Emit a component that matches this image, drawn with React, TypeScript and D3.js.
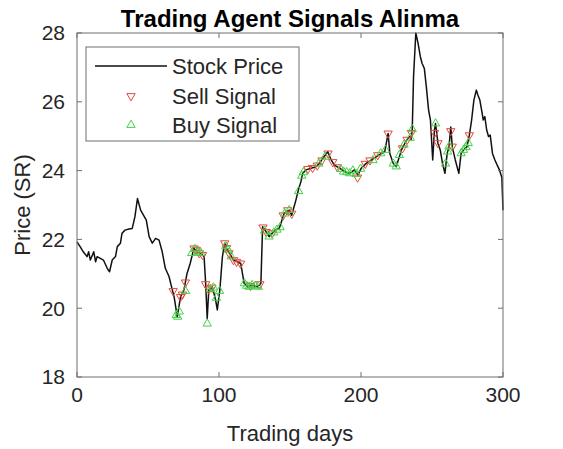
import React from 'react';
import * as d3 from 'd3';

// price line as [day, price]
const priceDays = [
  0, 2.2, 4.4, 7.1, 8.2, 9.4, 11.8, 13.1, 14.2, 16.4, 18.6, 21.3, 22.9, 24.8, 27.1, 28.4, 30.6, 31.7, 33.8, 36.6,
  38.9, 40.8, 42.6, 44.8, 46.9, 48.8, 50.8, 53.0, 55.4, 57.8, 60.0, 62.2, 64.8, 66.6, 68.4, 70.6, 72.9, 75.3, 77.5, 79.7,
  82.3, 84.7, 87.0, 89.5, 90.6, 91.7, 92.8, 95.3, 97.6, 98.8, 100.6, 102.4, 104.0, 105.9, 108.1, 110.2, 113.0, 115.3, 117.7, 120.1,
  123.3, 127.2, 129.5, 130.7, 133.2, 135.3, 137.5, 139.7, 142.4, 145.9, 149.5, 151.2, 154.2, 155.9, 157.7, 158.9, 161.3, 164.8, 168.3, 170.7,
  173.1, 176.6, 179.0, 181.2, 184.9, 188.4, 191.9, 195.4, 197.8, 200.2, 203.7, 207.4, 210.7, 214.4, 216.7, 219.1, 220.3, 222.7, 224.8, 228.5,
  232.1, 234.3, 235.3, 236.1, 237.0, 238.6, 240.2, 241.8, 243.0, 244.6, 246.0, 247.6, 248.9, 250.5, 251.7, 252.5, 254.2, 255.8, 257.4, 259.1,
  260.7, 262.0, 263.2, 264.3, 266.4, 268.9, 270.5, 272.2, 274.6, 276.3, 277.9, 279.5, 281.2, 282.3, 283.7, 285.3, 286.1, 287.2, 288.5, 289.8,
  291.0, 292.6, 294.3, 295.9, 297.5, 299.2, 300,
];
const prices = [
  21.93, 21.79, 21.64, 21.5, 21.64, 21.4, 21.64, 21.35, 21.5, 21.45, 21.4, 21.16, 21.06, 21.4, 21.5, 21.79, 21.89, 22.18, 22.27, 22.3,
  22.32, 22.66, 23.19, 22.85, 22.7, 22.56, 22.08, 21.89, 22.03, 21.98, 21.64, 21.16, 20.92, 20.62, 20.33, 19.75, 20.33, 20.53, 21.01, 21.3,
  21.74, 21.64, 21.6, 21.5, 20.72, 19.7, 20.53, 20.62, 20.24, 19.95, 20.53, 21.5, 21.89, 21.69, 21.55, 21.4, 21.35, 21.3, 20.72, 20.62,
  20.67, 20.62, 20.72, 22.37, 22.22, 22.08, 22.18, 22.27, 22.32, 22.76, 22.85, 22.7, 23.15, 23.44, 23.68, 23.92, 24.02, 24.07, 24.11, 24.21,
  24.36, 24.55, 24.31, 24.16, 24.07, 23.97, 23.92, 24.02, 23.87, 24.07, 24.21, 24.31, 24.4, 24.5, 24.55, 25.08, 24.5, 24.21, 24.11, 24.6,
  24.89, 24.99, 24.9, 25.2, 26.73, 28.0, 27.7, 27.31, 27.12, 26.97, 26.44, 25.76, 25.47, 24.31, 25.18, 25.37, 24.79, 24.6, 24.21, 23.92,
  24.5, 24.69, 25.27, 24.69, 24.31, 23.92, 24.5, 24.6, 24.69, 25.03, 25.47, 26.05, 26.34, 26.2, 26.05, 25.67, 25.47, 25.57, 25.18, 24.99,
  25.03, 24.5, 24.31, 24.16, 24.02, 23.8, 22.85,
];

const sellDays = [
  67.7, 72.9, 74.2, 76.4, 82.4, 84.0, 86.2, 88.4, 90.6, 92.8, 95.0, 104.0, 105.3, 107.0, 110.2, 112.4, 115.2, 122.2, 128.8, 131.0,
  133.2, 137.5, 145.2, 148.4, 151.2, 162.6, 165.9, 169.2, 172.5, 176.8, 180.1, 183.4, 197.6, 203.0, 206.3, 211.8, 219.1, 229.2, 232.5, 235.5,
  251.8, 254.2, 263.2, 264.3, 276.3,
];
const sellPrices = [
  20.5, 20.33, 20.4, 20.75, 21.74, 21.7, 21.6, 21.55, 20.7, 20.55, 20.6, 21.89, 21.75, 21.6, 21.4, 21.35, 21.3, 20.65, 20.7, 22.35,
  22.22, 22.18, 22.7, 22.85, 22.75, 24.05, 24.08, 24.15, 24.3, 24.5, 24.25, 24.1, 23.8, 24.2, 24.3, 24.45, 25.08, 24.65, 24.9, 25.1,
  25.1, 24.8, 25.15, 24.7, 25.03,
];

const buyDays = [
  69.9, 70.9, 72.0, 76.4, 80.8, 83.0, 85.1, 87.3, 91.7, 93.9, 96.1, 98.2, 100.4, 104.8, 106.4, 108.6, 117.9, 119.5, 121.2, 123.3,
  125.5, 127.7, 132.1, 135.3, 138.6, 140.8, 143.0, 146.3, 149.5, 156.1, 158.3, 159.4, 170.3, 174.6, 185.6, 187.7, 189.9, 192.1, 194.3, 196.5,
  199.7, 208.5, 213.9, 217.2, 222.7, 224.8, 227.0, 230.3, 234.7, 236.1, 252.5, 259.5, 261.0, 262.0, 270.5, 272.2, 274.0, 275.5,
];
const buyPrices = [
  19.8, 19.75, 19.9, 20.5, 21.6, 21.72, 21.62, 21.6, 19.55, 20.55, 20.6, 20.3, 20.5, 21.8, 21.7, 21.5, 20.72, 20.65, 20.62, 20.67,
  20.65, 20.62, 22.25, 22.08, 22.2, 22.28, 22.35, 22.75, 22.85, 23.4, 23.85, 23.95, 24.2, 24.4, 24.05, 23.97, 23.95, 23.92, 24.0, 23.9,
  24.05, 24.3, 24.5, 24.6, 24.2, 24.12, 24.45, 24.75, 24.95, 25.2, 25.37, 24.2, 24.55, 24.7, 24.5, 24.6, 24.68, 24.8,
];

const xTicks = [0, 100, 200, 300];
const yTicks = [18, 20, 22, 24, 26, 28];

const W = 563;
const H = 449;
const left = 77, right = 503, top = 33, bottom = 377;
const axisColor = '#6f6f6f';
const textColor = '#262626';
const sellColor = '#e2493a';
const buyColor = '#45d145';
const font = '"Liberation Sans", Arial, Helvetica, sans-serif';

export default function App() {
  const x = d3.scaleLinear().domain([0, 300]).range([left, right]);
  const y = d3.scaleLinear().domain([18, 28]).range([bottom, top]);

  const line = d3.line<number>()
    .x((_, i) => x(priceDays[i]))
    .y((p) => y(p));

  const tri = d3.symbol().type(d3.symbolTriangle).size(30)();

  const legendX = 86, legendY = 47, legendW = 213, legendH = 94;

  return (
    <svg width={W} height={H} style={{ position: 'absolute', left: 0, top: 0, background: '#fff' }} fontFamily={font}>
      <rect x={0} y={0} width={W} height={H} fill="#fff" />

      {/* price line */}
      <path d={line(prices) || ''} fill="none" stroke="#111" strokeWidth={1.5} strokeLinejoin="round" />

      {/* signals */}
      {sellDays.map((d, i) => (
        <path key={'s' + i} d={tri} transform={`translate(${x(d)},${y(sellPrices[i])}) rotate(180)`}
          fill="none" stroke={sellColor} strokeWidth={1} />
      ))}
      {buyDays.map((d, i) => (
        <path key={'b' + i} d={tri} transform={`translate(${x(d)},${y(buyPrices[i])})`}
          fill="none" stroke={buyColor} strokeWidth={1} />
      ))}

      {/* frame */}
      <rect x={left} y={top} width={right - left} height={bottom - top} fill="none" stroke={axisColor} strokeWidth={1} />
      {xTicks.map((t) => (
        <g key={'x' + t}>
          <line x1={x(t)} x2={x(t)} y1={bottom} y2={bottom - 5} stroke={axisColor} />
          <line x1={x(t)} x2={x(t)} y1={top} y2={top + 5} stroke={axisColor} />
          <text x={x(t)} y={402} textAnchor="middle" fontSize={21} fill={textColor}>{t}</text>
        </g>
      ))}
      {yTicks.map((t) => (
        <g key={'y' + t}>
          <line x1={left} x2={left + 5} y1={y(t)} y2={y(t)} stroke={axisColor} />
          <line x1={right} x2={right - 5} y1={y(t)} y2={y(t)} stroke={axisColor} />
          <text x={left - 12} y={y(t)} dy="0.35em" textAnchor="end" fontSize={21} fill={textColor}>{t}</text>
        </g>
      ))}

      {/* labels */}
      <text x={(left + right) / 2} y={27} textAnchor="middle" fontSize={24} fontWeight="bold" fill="#000">
        Trading Agent Signals Alinma
      </text>
      <text x={(left + right) / 2} y={441} textAnchor="middle" fontSize={22} fill={textColor}>Trading days</text>
      <text transform={`translate(30,${(top + bottom) / 2}) rotate(-90)`} textAnchor="middle" fontSize={22} fill={textColor}>
        Price (SR)
      </text>

      {/* legend */}
      <rect x={legendX} y={legendY} width={legendW} height={legendH} fill="#fff" stroke={axisColor} strokeWidth={1} />
      <line x1={95} x2={167} y1={66} y2={66} stroke="#111" strokeWidth={1.5} />
      <text x={172} y={66} dy="0.35em" fontSize={22} fill={textColor}>Stock Price</text>
      <path d={tri} transform={`translate(131,96) rotate(180)`} fill="none" stroke={sellColor} />
      <text x={172} y={96} dy="0.35em" fontSize={22} fill={textColor}>Sell Signal</text>
      <path d={tri} transform={`translate(131,125)`} fill="none" stroke={buyColor} />
      <text x={172} y={125} dy="0.35em" fontSize={22} fill={textColor}>Buy Signal</text>
    </svg>
  );
}
